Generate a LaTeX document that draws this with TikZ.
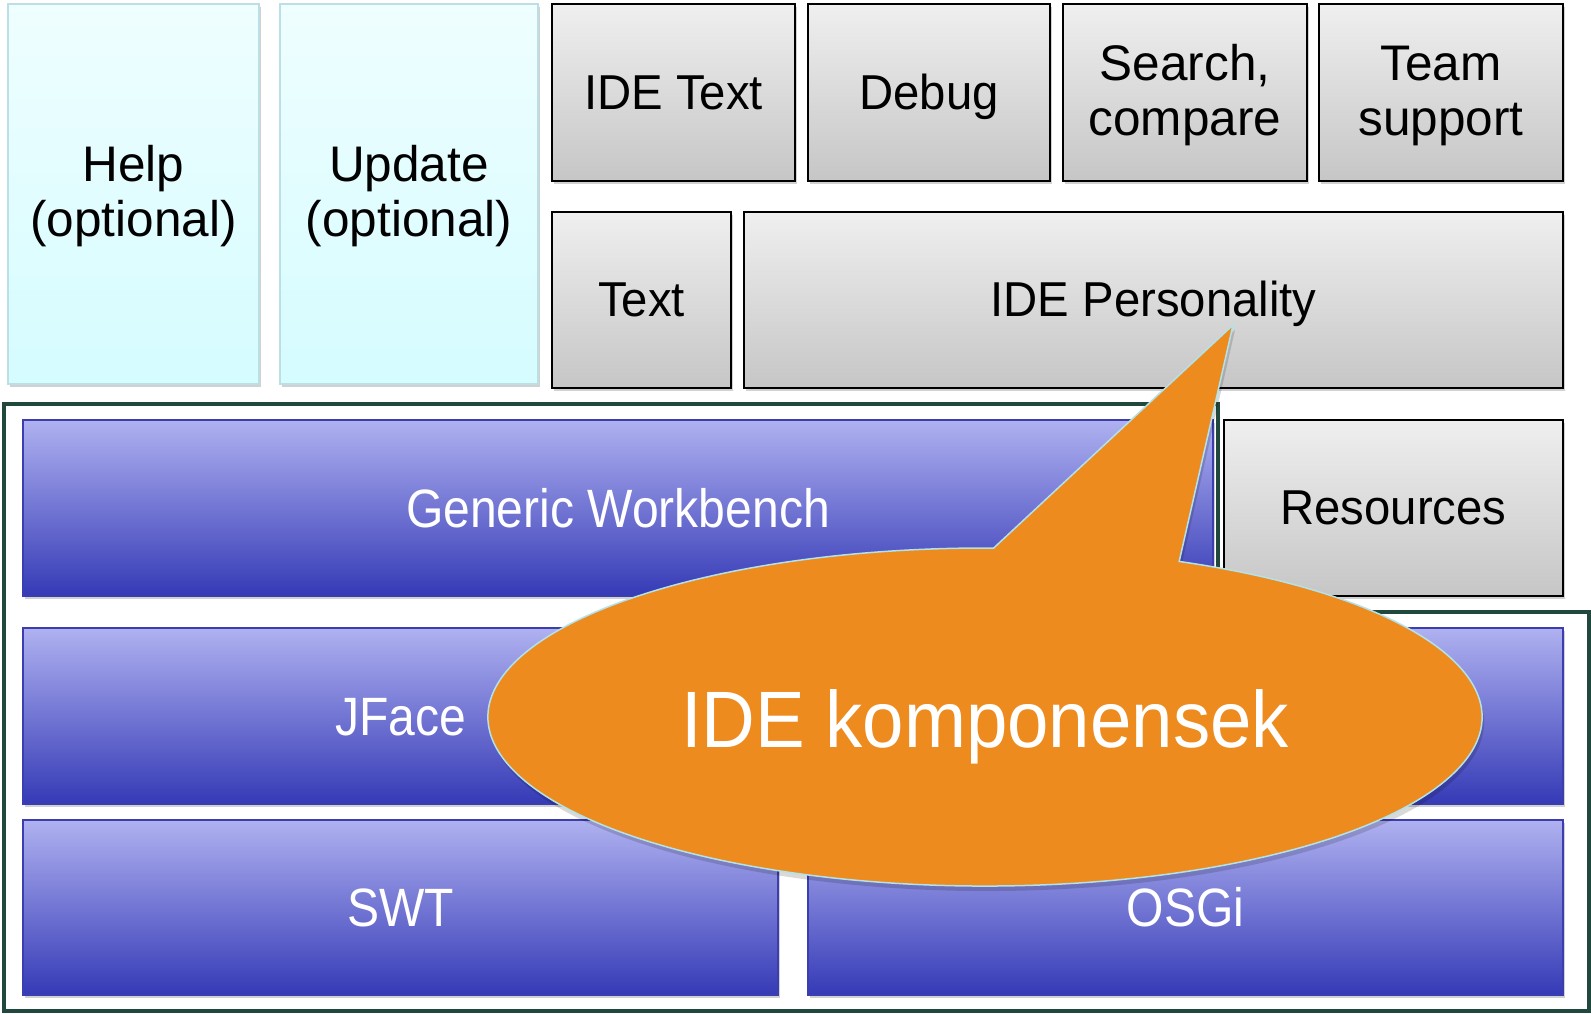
\documentclass[tikz,border=0pt]{standalone}
\usepackage{fontspec}
\setmainfont{Liberation Sans}
\newfontfamily\grayfont[FakeStretch=0.965]{Liberation Sans}
\newfontfamily\twofont[FakeStretch=0.99]{Liberation Sans}
\newfontfamily\bluefont[FakeStretch=0.89]{Liberation Sans}
\newfontfamily\callfont[FakeStretch=0.93]{Liberation Sans}
\usetikzlibrary{shadings,shadows}
\definecolor{gtop}{HTML}{EFEFEF}
\definecolor{gbot}{HTML}{C6C6C6}
\definecolor{ctop}{HTML}{EFFEFF}
\definecolor{cbot}{HTML}{D5FCFF}
\definecolor{cline}{HTML}{BCDFE6}
\definecolor{btop}{HTML}{AFB1F0}
\definecolor{bbot}{HTML}{353AB6}
\definecolor{bline}{HTML}{3A3EAE}
\definecolor{framec}{HTML}{21483C}
\definecolor{orangec}{HTML}{EE8B1E}
\definecolor{calline}{HTML}{B2E2EA}
\begin{document}
\begin{tikzpicture}[x=1pt,y=-1pt,
  shd/.style={drop shadow={shadow xshift=2pt, shadow yshift=-3pt, opacity=0.18, fill=black}},
  graybox/.style={rectangle, draw=black, line width=2.5pt, top color=gtop, bottom color=gbot,
    inner sep=0pt, shd, font=\grayfont\fontsize{49}{55}\selectfont, text=black,
    text height=33pt, text depth=0pt},
  cyanbox/.style={rectangle, draw=cline, line width=2pt, top color=ctop, bottom color=cbot,
    inner sep=0pt, shd},
  bluelabel/.style={inner sep=0pt, font=\bluefont\fontsize{54}{60}\selectfont, text=white,
    text height=38pt, text depth=0pt},
  bluebox/.style={rectangle, draw=bline, line width=1.5pt, top color=btop, bottom color=bbot,
    shd, bluelabel},
  twoline/.style={align=center, inner sep=0pt, font=\twofont\fontsize{50}{55}\selectfont, text=black},
  framestyle/.style={draw=framec, line width=4pt, line join=miter},
]
\useasboundingbox[fill=white] (0,0) rectangle (1591,1013);

% optional components
\node[cyanbox, minimum width=251pt, minimum height=380pt] (help) at (133.5,194) {};
\node[cyanbox, minimum width=258pt, minimum height=380pt] (update) at (409,194) {};
\node[twoline] (helpl) at ([yshift=-2pt]help.center) {Help\\(optional)};
\node[twoline] (updatel) at ([yshift=-2pt]update.center) {Update\\(optional)};

% IDE components
\node[graybox, minimum width=243pt, minimum height=177pt] (idetext) at (673.5,92.5) {IDE Text};
\node[graybox, minimum width=242pt, minimum height=177pt] (debug) at (929,92.5) {Debug};
\node[graybox, minimum width=244pt, minimum height=177pt] (search) at (1185,92.5) {};
\node[graybox, minimum width=244pt, minimum height=177pt] (team) at (1441,92.5) {};
\node[twoline] (searchl) at ([yshift=-3pt]search.center) {Search,\\compare};
\node[twoline] (teaml) at ([yshift=-3pt]team.center) {Team\\support};
\node[graybox, minimum width=179pt, minimum height=176pt] (text) at (641.5,300) {Text};
\node[graybox, minimum width=819pt, minimum height=176pt] (idepers) at (1153.5,300) {IDE Personality};

% platform frame
\draw[framestyle] (4,404) -- (1218,404) -- (1218,612) -- (1589,612) -- (1589,1011) -- (4,1011) -- cycle;

% platform
\node[bluebox, minimum width=1190pt, minimum height=176pt] (gw) at (618,508) {Generic Workbench};
\node[bluebox, minimum width=1540pt, minimum height=176pt] (jface) at (793,716) {};
\node[bluelabel] (jfacel) at (400.5,716) {JFace};
\node[bluebox, minimum width=755pt, minimum height=175pt] (swt) at (400.5,907.5) {SWT};
\node[bluebox, minimum width=755pt, minimum height=175pt] (osgi) at (1185.5,907.5) {OSGi};
\node[graybox, minimum width=339pt, minimum height=176pt] (res) at (1393.5,508) {Resources};

% callout
\coordinate (cc) at (985,717);
\coordinate (apex) at (1233,325);
\fill[black, opacity=0.15] ([shift={(2,5)}]cc) ++(-67:497 and 169)
  arc[start angle=-67, end angle=271, x radius=497, y radius=169] -- ([shift={(2,5)}]apex) -- cycle;
\filldraw[fill=orangec, draw=calline, line width=1.5pt] (cc) ++(-67:497 and 169)
  arc[start angle=-67, end angle=271, x radius=497, y radius=169] -- (apex) -- cycle;
\node[font=\callfont\fontsize{80}{90}\selectfont, text=white, inner sep=0pt,
  text height=57pt, text depth=0pt] (calltext) at ([yshift=-2pt]cc) {IDE komponensek};
\end{tikzpicture}
\end{document}
